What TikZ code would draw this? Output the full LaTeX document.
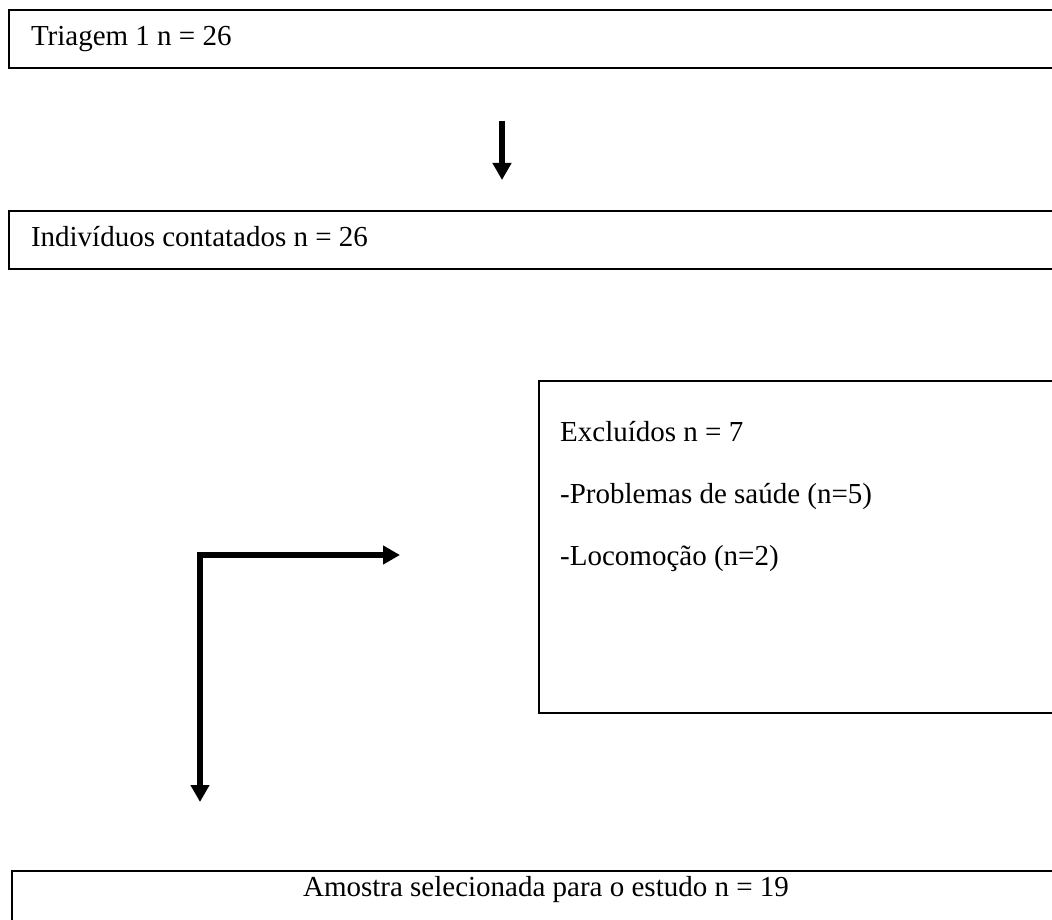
\documentclass[tikz,border=0pt]{standalone}
\usepackage{fontspec}
\setmainfont{Liberation Serif}
\usetikzlibrary{arrows.meta}

\begin{document}
\begin{tikzpicture}[x=1pt,y=-1pt,line join=miter,
  >={Triangle[length=17pt,width=18pt]},
  every node/.style={font=\fontsize{29}{35}\selectfont},
  box/.style={draw,line width=2pt,inner sep=0pt,anchor=north west},
  row/.style={box,text width=1040pt,inner xsep=22pt,align=flush left,text height=36pt,text depth=22pt},
  item/.style={anchor=base west,inner sep=0pt},
  flow/.style={line width=5.5pt,->}]
\useasboundingbox (0,0) rectangle (1052,920);
\clip (0,0) rectangle (1052,920);
% boxes
\node[row] (triagem) at (8,9) {Triagem 1 n = 26};
\node[row] (contato) at (8,210) {Indivíduos contatados n = 26};
\node[box,minimum width=600pt,minimum height=332pt] (excl) at (538,380) {};
\node[item] (exclA) at (560,441) {Excluídos n = 7};
\node[item] (exclB) at (560,503) {-Problemas de saúde (n=5)};
\node[item] (exclC) at (560,565) {-Locomoção (n=2)};
\node[row,align=flush center,inner xsep=0pt,text width=1068pt,text height=25pt,text depth=40pt] (amostra) at (11,870) {Amostra selecionada para o estudo n = 19};
% arrows
\coordinate (downA) at (502,121);
\coordinate (downB) at (502,180);
\coordinate (elbowdown) at (200,802);
\coordinate (elbowright) at (400,555);
\draw[flow] (downA) -- (downB);
\draw[flow,<->] (elbowdown) |- (elbowright);
\end{tikzpicture}
\end{document}
